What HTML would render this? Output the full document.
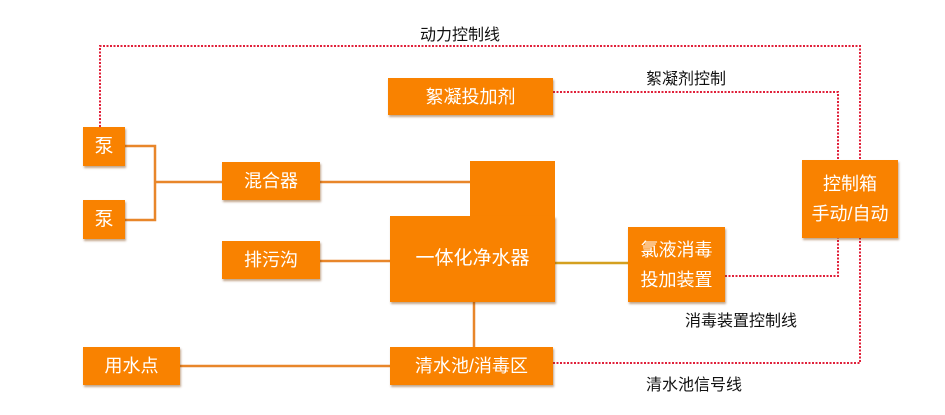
<!DOCTYPE html>
<html><head><meta charset="utf-8"><style>
body{margin:0;width:945px;height:415px;background:#fff;position:relative;overflow:hidden;font-family:"Liberation Sans","Noto Sans CJK SC",sans-serif}
.b{position:absolute;background:#f98200;color:#fff;display:flex;align-items:center;justify-content:center;text-align:center;font-size:18px;line-height:30px;box-shadow:1px 2px 2px rgba(120,60,0,.45)}
.t{position:absolute;font-size:16px;color:#111;white-space:nowrap}
svg{position:absolute;left:0;top:0}
</style></head><body>
<svg width="945" height="415">
<g stroke="#e8862a" stroke-width="2.5" fill="none">
<path d="M125 146H155V220H125M155 182H222M320 182H470M320 261H390M474 302V347M180 366H390"/>
</g>
<path d="M555 263H628" stroke="#d4a020" stroke-width="2.5"/>
<g stroke="#e0203a" stroke-width="2" fill="none" stroke-dasharray="2 1.5">
<path d="M100 127V46H860V160M553 92H838V160M725 276H838V238M553 363H860V238"/>
</g>
</svg>
<div class="b" style="left:83px;top:127px;width:42px;height:39px;font-size:19px">泵</div>
<div class="b" style="left:83px;top:200px;width:42px;height:39px;font-size:19px">泵</div>
<div class="b" style="left:222px;top:162px;width:98px;height:38px">混合器</div>
<div class="b" style="left:222px;top:241px;width:98px;height:38px">排污沟</div>
<div class="b" style="left:388px;top:78px;width:165px;height:37px">絮凝投加剂</div>
<div class="b" style="left:470px;top:161px;width:85px;height:60px;box-shadow:none"></div>
<div class="b" style="left:390px;top:216px;width:165px;height:86px;font-size:19px">一体化净水器</div>
<div class="b" style="left:628px;top:227px;width:97px;height:75px">氯液消毒<br>投加装置</div>
<div class="b" style="left:802px;top:160px;width:96px;height:78px">控制箱<br>手动/自动</div>
<div class="b" style="left:83px;top:347px;width:97px;height:38px">用水点</div>
<div class="b" style="left:390px;top:347px;width:163px;height:38px">清水池/消毒区</div>
<div class="t" style="left:420px;top:21px">动力控制线</div>
<div class="t" style="left:646px;top:65px">絮凝剂控制</div>
<div class="t" style="left:685px;top:307px">消毒装置控制线</div>
<div class="t" style="left:646px;top:371px">清水池信号线</div>
</body></html>
